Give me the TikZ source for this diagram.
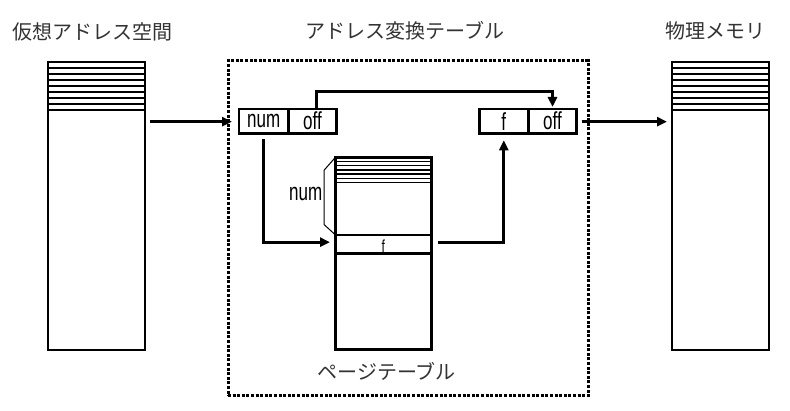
\documentclass[tikz,border=0pt]{standalone}
\usepackage{graphicx}
\usepackage{fontspec}
\setmainfont{Liberation Sans}
\newfontfamily\jfont{Noto Sans CJK JP}
\usetikzlibrary{arrows.meta,calc}
\newcommand{\tallt}[1]{\scalebox{1}[1.45]{#1}}
\begin{document}
\begin{tikzpicture}[x=1pt,y=-1pt,
  arr/.style={line width=2.8pt, -{Triangle[length=10pt,width=9pt]}},
  memory/.style={draw, line width=2pt, minimum width=97pt, minimum height=288pt, inner sep=0pt, outer sep=0pt},
  stripe/.style={line width=1.6pt},
  pstripe/.style={line width=1.5pt},
  cell/.style={draw, line width=2.8pt, minimum height=24.3pt, inner sep=0pt, outer sep=0pt, font=\fontsize{17}{17}\selectfont},
  title/.style={font=\jfont\fontsize{20}{20}\selectfont, text=black!80, inner sep=0pt},
  small/.style={inner sep=0pt, font=\fontsize{17}{17}\selectfont},
]
\useasboundingbox (0,0) rectangle (790,411);
% titles
\node[title] (t1) at (92.5,31.5) {仮想アドレス空間};
\node[title] (t2) at (405,30.5) {アドレス変換テーブル};
\node[title] (t3) at (715.5,31) {物理メモリ};
% dotted frame
\node[draw, line width=3pt, dash pattern=on 3pt off 1.6pt, minimum width=360pt, minimum height=335pt, inner sep=0pt] (xlat) at (408,228.5) {};
% virtual memory
\node[memory] (vmem) at (96.5,206) {};
\foreach \k in {1,...,8}
  \draw[stripe] ($(vmem.north west)+(0,6*\k)$) -- ($(vmem.north east)+(0,6*\k)$);
% physical memory
\node[memory] (pmem) at (720.5,206) {};
\foreach \k in {1,...,8}
  \draw[stripe] ($(pmem.north west)+(0,6*\k)$) -- ($(pmem.north east)+(0,6*\k)$);
% address cells
\node[cell, minimum width=49.3pt] (numc) at (263.65,121.15) {\tallt{num}};
\node[cell, minimum width=48.4pt, anchor=west] (offc) at (numc.east) {\tallt{off}};
\node[cell, minimum width=49pt] (fc) at (503.8,121.15) {\tallt{f}};
\node[cell, minimum width=48.4pt, anchor=west] (off2) at (fc.east) {\tallt{off}};
% page table
\node[draw, line width=3pt, minimum width=96.7pt, minimum height=192pt, inner sep=0pt, outer sep=0pt] (ptab) at (383.35,253.3) {};
\foreach \k in {1,...,6}
  \draw[pstripe] ($(ptab.north west)+(0,4.2*\k)$) -- ($(ptab.north east)+(0,4.2*\k)$);
\node[draw, line width=2.8pt, minimum width=96.7pt, minimum height=18.3pt, inner sep=0pt, outer sep=0pt] (frow) at (383.35,244.15) {};
\node[anchor=base, inner sep=0pt, font=\fontsize{12}{12}\selectfont] (flab) at (383.3,252.5) {\tallt{f}};
\node[title] (t4) at (386.7,371.5) {ページテーブル};
% brace
\coordinate (b1) at ($(ptab.north west)+(0,0.5)$);
\coordinate (b2) at ($(frow.north west)+(0,-0.5)$);
\draw[line width=1pt] (b1) -- ++(-11,12.5) -- ($(b2)+(-11,-10)$) -- (b2);
\node[small, anchor=east] (numlab) at (322.5,194) {\tallt{num}};
% arrows
\draw[arr] ($(vmem.east |- numc)+(5,0.5)$) -- ($(numc.west)+(-7,0.5)$);
\draw[arr] ($(offc.north)+(4,-1.4)$) -- ++(0,-16) -| ($(off2.north)+(0,-2)$);
\draw[arr] ($(numc.south)+(0,6)$) |- ($(frow.west)+(-5,-2)$);
\draw[arr] ($(frow.east)+(6,-2)$) -| ($(fc.south)+(0,7)$);
\draw[arr] ($(off2.east)+(5,0.5)$) -- ($(pmem.west |- off2)+(-5,0.5)$);
\end{tikzpicture}
\end{document}
